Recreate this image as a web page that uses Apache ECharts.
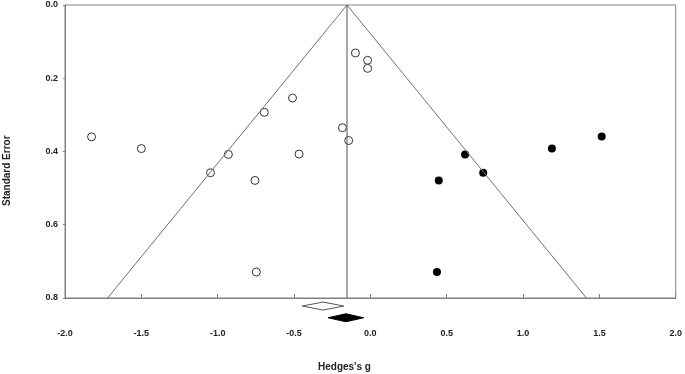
<!DOCTYPE html>
<html>
<head>
<meta charset="utf-8">
<script src="https://cdn.jsdelivr.net/npm/echarts@6/dist/echarts.min.js"></script>
<style>
  html, body { margin: 0; padding: 0; background: #fff; }
  #chart { width: 685px; height: 374px; }
</style>
</head>
<body>
<div id="chart"></div>
<script>
// observed studies (Hedges's g, standard error)
var observedG = [-1.826, -1.500, -1.047, -0.930, -0.695, -0.510, -0.467, -0.756, -0.183, -0.142, -0.747, -0.098, -0.018, -0.018];
var observedSE = [0.360, 0.392, 0.458, 0.408, 0.293, 0.254, 0.407, 0.479, 0.335, 0.370, 0.729, 0.131, 0.151, 0.173];
// imputed studies (trim and fill)
var imputedG = [0.620, 0.739, 0.448, 1.189, 1.515, 0.436];
var imputedSE = [0.408, 0.458, 0.479, 0.392, 0.359, 0.729];
// combined effect and funnel
var meanG = -0.153;
var funnelSE = [0, 0.8];
// diamonds: [lower, point, upper, row]
var observedDiamond = [-0.446, -0.31, -0.174, 0.822];
var adjustedDiamond = [-0.277, -0.16, -0.044, 0.854];
var xTicks = [-2.0, -1.5, -1.0, -0.5, 0.0, 0.5, 1.0, 1.5, 2.0];
var yTicks = [0.0, 0.2, 0.4, 0.6, 0.8];

function pairs(xs, ys) {
  return xs.map(function(x, i) { return [x, ys[i]]; });
}

var labelStyle = { fontFamily: 'Liberation Sans, Arial, sans-serif', fontWeight: 'bold', fontSize: 9, color: '#222' };

function diamondItem(fill) {
  return function(params, api) {
    var lo = api.coord([api.value(0), api.value(3)]);
    var mid = api.coord([api.value(1), api.value(3)]);
    var hi = api.coord([api.value(2), api.value(3)]);
    var h = 4;
    return {
      type: 'polygon',
      shape: { points: [[lo[0], lo[1]], [mid[0], mid[1] - h], [hi[0], hi[1]], [mid[0], mid[1] + h]] },
      style: { fill: fill, stroke: fill == '#000' ? '#000' : '#555', lineWidth: 1 }
    };
  };
}

var chart = echarts.init(document.getElementById('chart'));
chart.setOption({
  animation: false,
  grid: { left: 65, right: 7, top: 5, bottom: 76, show: true, borderColor: '#808080', borderWidth: 1 },
  xAxis: {
    type: 'value', min: -2, max: 2, interval: 0.5,
    axisLine: { onZero: false, lineStyle: { color: '#808080' } },
    axisTick: { inside: true, length: 4, lineStyle: { color: '#808080' } },
    splitLine: { show: false },
    axisLabel: Object.assign({ margin: 31, formatter: function(v) { return v.toFixed(1); } }, labelStyle)
  },
  yAxis: {
    type: 'value', inverse: true, min: 0, max: 0.8, interval: 0.2,
    axisLine: { show: true, onZero: false, lineStyle: { color: '#808080' } },
    axisTick: { show: true, length: 2, lineStyle: { color: '#808080' } },
    splitLine: { show: false },
    axisLabel: Object.assign({ margin: 7, formatter: function(v) { return v.toFixed(1); } }, labelStyle)
  },
  graphic: [
    { type: 'text', left: 318, top: 362, style: { text: "Hedges's g", font: 'bold 10px Liberation Sans, Arial, sans-serif', fill: '#222' } },
    { type: 'text', x: 2, y: 206, rotation: Math.PI / 2, style: { text: 'Standard Error', font: 'bold 10px Liberation Sans, Arial, sans-serif', fill: '#222' } }
  ],
  series: [
    {
      type: 'line', silent: true, symbol: 'none',
      lineStyle: { color: '#707070', width: 1 },
      data: [[meanG - 1.96 * funnelSE[1], funnelSE[1]], [meanG, funnelSE[0]], [meanG + 1.96 * funnelSE[1], funnelSE[1]]]
    },
    {
      type: 'line', silent: true, symbol: 'none',
      lineStyle: { color: '#555', width: 1 },
      data: [[meanG, funnelSE[0]], [meanG, funnelSE[1]]]
    },
    {
      type: 'scatter', symbol: 'circle', symbolSize: 8,
      itemStyle: { color: '#fff', borderColor: '#333', borderWidth: 1, opacity: 1 },
      data: pairs(observedG, observedSE)
    },
    {
      type: 'scatter', symbol: 'circle', symbolSize: 8,
      itemStyle: { color: '#000', opacity: 1 },
      data: pairs(imputedG, imputedSE)
    },
    { type: 'custom', clip: false, renderItem: diamondItem('#fff'), data: [observedDiamond] },
    { type: 'custom', clip: false, renderItem: diamondItem('#000'), data: [adjustedDiamond] }
  ]
});
</script>
</body>
</html>
